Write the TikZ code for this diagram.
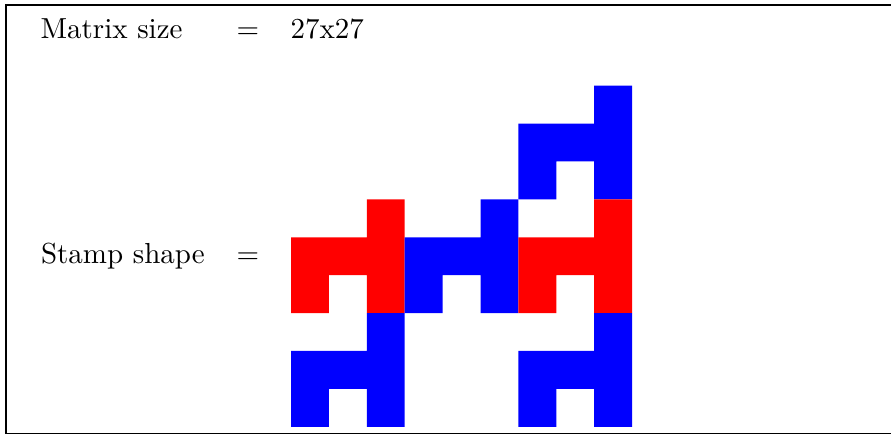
\documentclass[tikz,border=0pt]{standalone}
\begin{document}
\begin{tikzpicture}[x=0.345pt,y=-0.345pt,
  lbl/.style={anchor=base west,inner sep=0pt,font=\fontsize{10}{12}\selectfont},
  stampshape/.pic={\fill[pic actions] (2,0) -- (3,0) -- (3,3) -- (2,3) -- (2,2) -- (1,2) -- (1,3) -- (0,3) -- (0,1) -- (2,1) -- cycle;}]
\useasboundingbox (0,0) rectangle (891,435);
\draw[line width=0.45pt] (900,5) -- (6,5) -- (6,433.5) -- (900,433.5);
\node[lbl] (msize) at (40,39) {Matrix size};
\node[lbl] (meq) at (236,39) {=};
\node[lbl] (mval) at (290,39) {27x27};
\node[lbl] (sshape) at (40.5,264) {Stamp shape};
\node[lbl] (seq) at (236,264) {=};
\foreach \bx/\by/\col in {2/0/blue, 0/1/red, 1/1/blue, 2/1/red, 0/2/blue, 2/2/blue}
  \pic[fill=\col, scale=37.9] at ({291+113.7*\bx},{85.7+113.7*\by}) {stampshape};
\end{tikzpicture}
\end{document}
